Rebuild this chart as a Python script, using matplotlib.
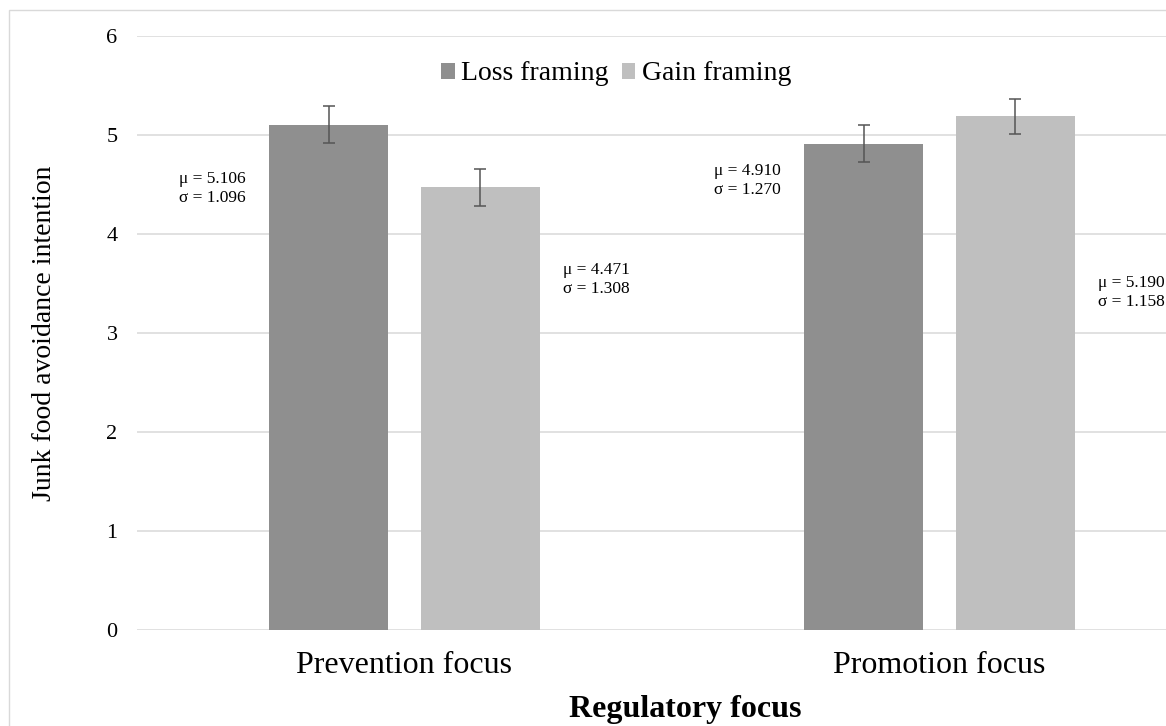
import numpy as np
from matplotlib import pyplot as plt
from matplotlib.patches import Rectangle

plt.rcParams['font.family'] = ['Liberation Serif', 'DejaVu Serif']

categories = ['Prevention focus', 'Promotion focus']
series = ['Loss framing', 'Gain framing']
means_loss = [5.106, 4.910]
means_gain = [4.471, 5.190]
sd_loss = [1.096, 1.270]
sd_gain = [1.308, 1.158]
err_loss = [0.184, 0.186]
err_gain = [0.19, 0.177]
yticks = [0, 1, 2, 3, 4, 5, 6]

# hand placed label heights (data units), as in the original chart
label_y_loss = [4.46, 4.54]
label_y_gain = [3.54, 3.41]

W, H = 1166, 726
fig = plt.figure(figsize=(W / 100, H / 100), dpi=100)
ax = fig.add_axes([137 / W, 96 / H, 1070 / W, 594 / H])

x = np.arange(len(categories))
bw = 0.224
off = 0.142
c_loss = '#8f8f8f'
c_gain = '#bfbfbf'

ax.bar(x - off, means_loss, bw, color=c_loss, label=series[0], zorder=2)
ax.bar(x + off, means_gain, bw, color=c_gain, label=series[1], zorder=2)
ax.errorbar(x - off, means_loss, yerr=err_loss, fmt='none', ecolor='#555555',
            elinewidth=1.1, capsize=4.3, capthick=1.1, zorder=3)
ax.errorbar(x + off, means_gain, yerr=err_gain, fmt='none', ecolor='#555555',
            elinewidth=1.1, capsize=4.3, capthick=1.1, zorder=3)

gap = 0.043
for i in range(len(categories)):
    ax.text(x[i] - off - bw / 2 - gap, label_y_loss[i],
            f'\u03bc = {means_loss[i]:.3f}\n\u03c3 = {sd_loss[i]:.3f}',
            ha='right', va='center', fontsize=12.5, linespacing=1.3)
    ax.text(x[i] + off + bw / 2 + gap, label_y_gain[i],
            f'\u03bc = {means_gain[i]:.3f}\n\u03c3 = {sd_gain[i]:.3f}',
            ha='left', va='center', fontsize=12.5, linespacing=1.3)

ax.set_xlim(-0.5, 1.5)
ax.set_ylim(0, 6)
ax.set_yticks(yticks)
ax.set_xticks(x)
ax.set_xticklabels(categories, fontsize=23)
ax.tick_params(axis='y', length=0, pad=14, labelsize=16)
ax.tick_params(axis='x', length=0, pad=15)
ax.grid(axis='y', color='#d9d9d9', linewidth=1.1, zorder=0)
ax.set_axisbelow(True)
for s in ax.spines.values():
    s.set_visible(False)

fig.text(685 / W, (H - 716.7) / H, 'Regulatory focus', ha='center',
         va='baseline', fontsize=23, fontweight='bold')
fig.text(45 / W, 1 - 333 / H, 'Junk food avoidance intention', rotation=90,
         ha='center', va='center', fontsize=20)

ax.legend(loc='center', bbox_to_anchor=(616 / W, 1 - 74 / H),
          bbox_transform=fig.transFigure, ncol=2, frameon=False, fontsize=20,
          handlelength=0.5, handleheight=0.5, handletextpad=0.22,
          columnspacing=0.47)

fig.add_artist(Rectangle((8.5 / W, -0.05), 1.1, (H - 10.5) / H + 0.05,
                         transform=fig.transFigure, fill=False,
                         edgecolor='#d9d9d9', linewidth=1))

plt.savefig('out.png', dpi=100)
